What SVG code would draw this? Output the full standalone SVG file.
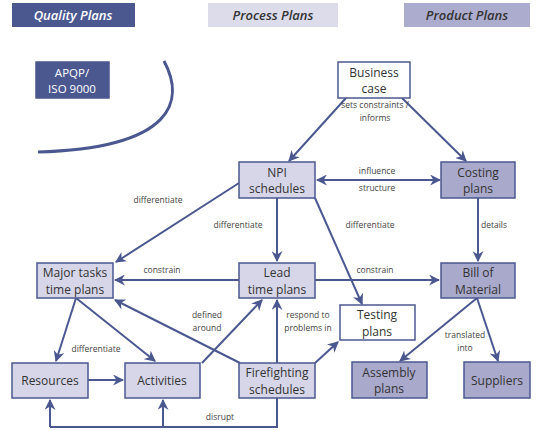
<svg xmlns="http://www.w3.org/2000/svg" width="536" height="430" viewBox="0 0 536 430">
<defs>
<marker id="ah" viewBox="0 0 10 10" refX="9" refY="5" markerWidth="5.5" markerHeight="5.5" orient="auto-start-reverse" markerUnits="strokeWidth">
<path d="M0,0 L10,5 L0,10 L3,5 z" fill="#4b5890"/>
</marker>
<style>
.hdr{font-family:"Open Sans","Noto Sans",sans-serif;font-size:13px;font-style:italic;font-weight:600;text-anchor:middle}
.n{stroke:#4b5890;stroke-width:1.5}
.light{fill:#d6d6e8}
.med{fill:#a9a9cb}
.white{fill:#ffffff}
.dark{fill:#4b5890}
.t{font-family:"Open Sans","Noto Sans",sans-serif;font-size:12px;fill:#333;text-anchor:middle}
.tw{font-family:"Open Sans","Noto Sans",sans-serif;font-size:11.5px;fill:#fff;text-anchor:middle}
.l{font-family:"Open Sans","Noto Sans",sans-serif;font-size:8.5px;fill:#444;text-anchor:middle}
.c{fill:none;stroke:#4b5890;stroke-width:2}
.a{marker-end:url(#ah)}
</style>
</defs>
<rect width="536" height="430" fill="#fff"/>
<g id="header-quality"><rect x="12" y="3" width="123" height="24" fill="#4b5890"/><text class="hdr" x="73" y="20" fill="#fff">Quality Plans</text></g>
<g id="header-process"><rect x="208" y="3" width="130" height="24" fill="#dcdceb"/><text class="hdr" x="273" y="20" fill="#333">Process Plans</text></g>
<g id="header-product"><rect x="404" y="3" width="126" height="24" fill="#acacce"/><text class="hdr" x="467" y="20" fill="#333">Product Plans</text></g>
<g id="apqp"><rect class="n dark" x="36" y="62" width="73" height="36"/><text class="tw" x="72" y="76.5">APQP/</text><text class="tw" x="72" y="93">ISO 9000</text></g>
<path d="M164,61 C185,100 175,148 38,152" fill="none" stroke="#4b5890" stroke-width="3"/>
<g id="connectors">
<path class="c a" d="M346,98 L289,161"/>
<path class="c a" d="M402,98 L466,161"/>
<path class="c a" d="M317,180 L440,180" style="marker-start:url(#ah)"/>
<path class="c a" d="M239,183 L116,262"/>
<path class="c a" d="M277,198 L277,261"/>
<path class="c a" d="M315,198 L362,304"/>
<path class="c a" d="M478,198 L478,261"/>
<path class="c a" d="M239,280 L115,280"/>
<path class="c a" d="M315,280 L439,280"/>
<path class="c a" d="M76,298 L56,361"/>
<path class="c a" d="M76,298 L155,361"/>
<path class="c a" d="M88,380 L123,380"/>
<path class="c a" d="M202,363 L262,300"/>
<path class="c a" d="M240,363 L115,300"/>
<path class="c a" d="M277,363 L277,300"/>
<path class="c a" d="M315,363 L338,342"/>
<path class="c a" d="M477,298 L400,361"/>
<path class="c a" d="M477,298 L498,361"/>
<path class="c" d="M277,398 L277,427 L50,427"/>
<path class="c a" d="M50,427 L50,400"/>
<path class="c a" d="M163,427 L163,400"/>
<text class="l" x="375" y="108">sets constraints /</text>
<text class="l" x="375" y="121">informs</text>
<text class="l" x="377" y="174">influence</text>
<text class="l" x="377" y="191">structure</text>
<text class="l" x="158" y="203">differentiate</text>
<text class="l" x="238" y="228">differentiate</text>
<text class="l" x="370" y="228">differentiate</text>
<text class="l" x="494" y="228">details</text>
<text class="l" x="162" y="273">constrain</text>
<text class="l" x="375" y="273">constrain</text>
<text class="l" x="96" y="352">differentiate</text>
<text class="l" x="207" y="318">defined</text>
<text class="l" x="207" y="331">around</text>
<text class="l" x="308" y="318">respond to</text>
<text class="l" x="308" y="331">problems in</text>
<text class="l" x="465" y="338">translated</text>
<text class="l" x="465" y="351">into</text>
<text class="l" x="220" y="420">disrupt</text>
</g>
<g id="business-case"><rect class="n white" x="338" y="62" width="72" height="36"/><text class="t" x="374" y="76.5">Business</text><text class="t" x="374" y="93">case</text></g>
<g id="npi"><rect class="n light" x="239" y="162" width="76" height="36"/><text class="t" x="277" y="176.5">NPI</text><text class="t" x="277" y="193">schedules</text></g>
<g id="costing"><rect class="n med" x="441" y="162" width="74" height="36"/><text class="t" x="478" y="176.5">Costing</text><text class="t" x="478" y="193">plans</text></g>
<g id="major"><rect class="n light" x="37" y="263" width="76" height="35"/><text class="t" x="75" y="277">Major tasks</text><text class="t" x="75" y="293.5">time plans</text></g>
<g id="lead"><rect class="n light" x="239" y="263" width="76" height="35"/><text class="t" x="277" y="277">Lead</text><text class="t" x="277" y="293.5">time plans</text></g>
<g id="bom"><rect class="n med" x="441" y="263" width="74" height="35"/><text class="t" x="478" y="277">Bill of</text><text class="t" x="478" y="293.5">Material</text></g>
<g id="testing"><rect class="n white" x="340" y="305" width="75" height="35"/><text class="t" x="377" y="319">Testing</text><text class="t" x="377" y="335.5">plans</text></g>
<g id="resources"><rect class="n light" x="12" y="363" width="76" height="35"/><text class="t" x="50" y="385">Resources</text></g>
<g id="activities"><rect class="n light" x="125" y="363" width="75" height="35"/><text class="t" x="162" y="385">Activities</text></g>
<g id="firefighting"><rect class="n light" x="239" y="363" width="76" height="35"/><text class="t" x="277" y="377">Firefighting</text><text class="t" x="277" y="393.5">schedules</text></g>
<g id="assembly"><rect class="n med" x="352" y="362" width="75" height="36"/><text class="t" x="389" y="376.5">Assembly</text><text class="t" x="389" y="393">plans</text></g>
<g id="suppliers"><rect class="n med" x="464" y="362" width="66" height="36"/><text class="t" x="497" y="385">Suppliers</text></g>
</svg>
